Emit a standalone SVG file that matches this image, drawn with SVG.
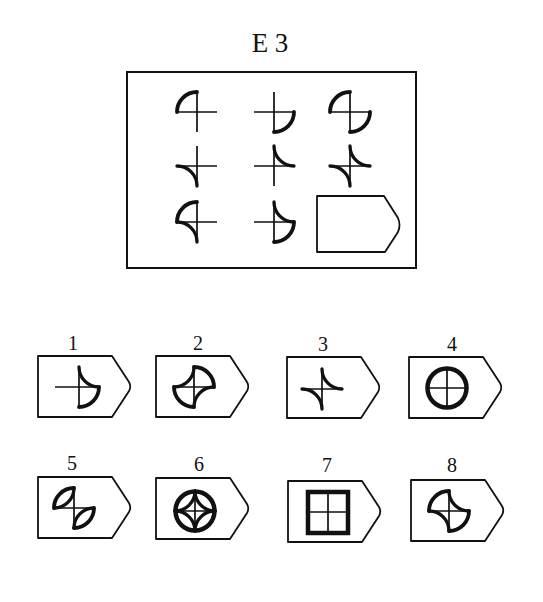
<svg xmlns="http://www.w3.org/2000/svg" width="543" height="602" viewBox="0 0 543 602">
<style>
.bg{fill:#fff}
.frame{fill:none;stroke:#111;stroke-width:2}
.box{fill:#fff;stroke:#111;stroke-width:1.8;stroke-linejoin:round}
.x{fill:none;stroke:#111;stroke-width:1.7}
.cv{fill:none;stroke:#111;stroke-width:3.8;stroke-linecap:round}
.cc{fill:none;stroke:#111;stroke-width:3.3;stroke-linecap:round}
.thick{fill:none;stroke:#111;stroke-width:4.5}
.t{font-family:"Liberation Serif","Times New Roman",serif;fill:#111;text-anchor:middle}
</style>
<defs>
<path id="cross" class="x" d="M-20,0H20M0,-20V20"/>
<path id="vUL" class="cv" d="M0,-20A20,20 0 0 0 -20,0"/>
<path id="vLR" class="cv" d="M20,0A20,20 0 0 1 0,20"/>
<path id="vUR" class="cv" d="M0,-20A20,20 0 0 1 20,0"/>
<path id="vLL" class="cv" d="M-20,0A20,20 0 0 0 0,20"/>
<path id="kLL" class="cc" d="M-20,0A20,20 0 0 1 0,20"/>
<path id="kUR" class="cc" d="M0,-20A20,20 0 0 0 20,0"/>
<path id="kUL" class="cc" d="M-20,0A20,20 0 0 0 0,-20"/>
<path id="kLR" class="cc" d="M20,0A20,20 0 0 0 0,20"/>
<path id="tag" class="box" d="M0,0H74L91,26Q93.5,30.5 91,35L74,61H0Z"/>
</defs>
<rect class="bg" width="543" height="602"/>
<text class="t" x="270" y="52" font-size="27">E 3</text>

<g id="matrix">
<rect class="frame" x="127" y="72" width="289" height="196"/>
<g id="m11" transform="translate(197,112)"><use href="#cross"/><use href="#vUL"/></g>
<g id="m12" transform="translate(274,112)"><use href="#cross"/><use href="#vLR"/></g>
<g id="m13" transform="translate(350,112)"><use href="#cross"/><use href="#vUL"/><use href="#vLR"/></g>
<g id="m21" transform="translate(197,166)"><use href="#cross"/><use href="#kLL"/></g>
<g id="m22" transform="translate(274,166)"><use href="#cross"/><use href="#kUR"/></g>
<g id="m23" transform="translate(350,166)"><use href="#cross"/><use href="#kLL"/><use href="#kUR"/></g>
<g id="m31" transform="translate(197,222)"><use href="#cross"/><use href="#vUL"/><use href="#kLL"/></g>
<g id="m32" transform="translate(274,222)"><use href="#cross"/><use href="#vLR"/><use href="#kUR"/></g>
<g id="m33"><path class="box" d="M317,196H384L398,218Q401,225 398,232L385,252H317Z"/></g>
</g>

<g id="opt1">
<text class="t" x="73" y="350" font-size="20">1</text>
<use href="#tag" x="38" y="356"/>
<g transform="translate(79,387)"><path class="x" d="M-24,0H20M0,-21V20"/><use href="#vLR"/><use href="#kUR"/></g>
</g>
<g id="opt2">
<text class="t" x="198" y="350" font-size="20">2</text>
<use href="#tag" x="156" y="356"/>
<g transform="translate(194,387)"><use href="#cross"/><use href="#vUR"/><use href="#vLL"/><use href="#kUL"/><use href="#kLR"/></g>
</g>
<g id="opt3">
<text class="t" x="323" y="351" font-size="20">3</text>
<use href="#tag" x="287" y="357"/>
<g transform="translate(322,389)"><use href="#cross"/><use href="#kUR"/><use href="#kLL"/></g>
</g>
<g id="opt4">
<text class="t" x="452" y="351" font-size="20">4</text>
<use href="#tag" x="409" y="357"/>
<g transform="translate(447,388)"><use href="#cross"/><circle class="thick" r="19.5"/></g>
</g>
<g id="opt5">
<text class="t" x="72" y="470" font-size="20">5</text>
<use href="#tag" x="38" y="477"/>
<g transform="translate(74,508)"><use href="#cross"/><use href="#vUL"/><use href="#kUL"/><use href="#vLR"/><use href="#kLR"/></g>
</g>
<g id="opt6">
<text class="t" x="199" y="471" font-size="20">6</text>
<use href="#tag" x="156" y="478"/>
<g transform="translate(195,511)"><use href="#cross"/><circle class="thick" r="19.5"/><use href="#kUL"/><use href="#kUR"/><use href="#kLL"/><use href="#kLR"/></g>
</g>
<g id="opt7">
<text class="t" x="327" y="472" font-size="20">7</text>
<use href="#tag" x="288" y="481"/>
<g transform="translate(328,512)"><use href="#cross"/><rect class="thick" x="-20" y="-20" width="40" height="41"/></g>
</g>
<g id="opt8">
<text class="t" x="452" y="472" font-size="20">8</text>
<use href="#tag" x="411" y="480"/>
<g transform="translate(449,511)"><use href="#cross"/><use href="#vUL"/><use href="#vLR"/><use href="#kUR"/><use href="#kLL"/></g>
</g>
</svg>
